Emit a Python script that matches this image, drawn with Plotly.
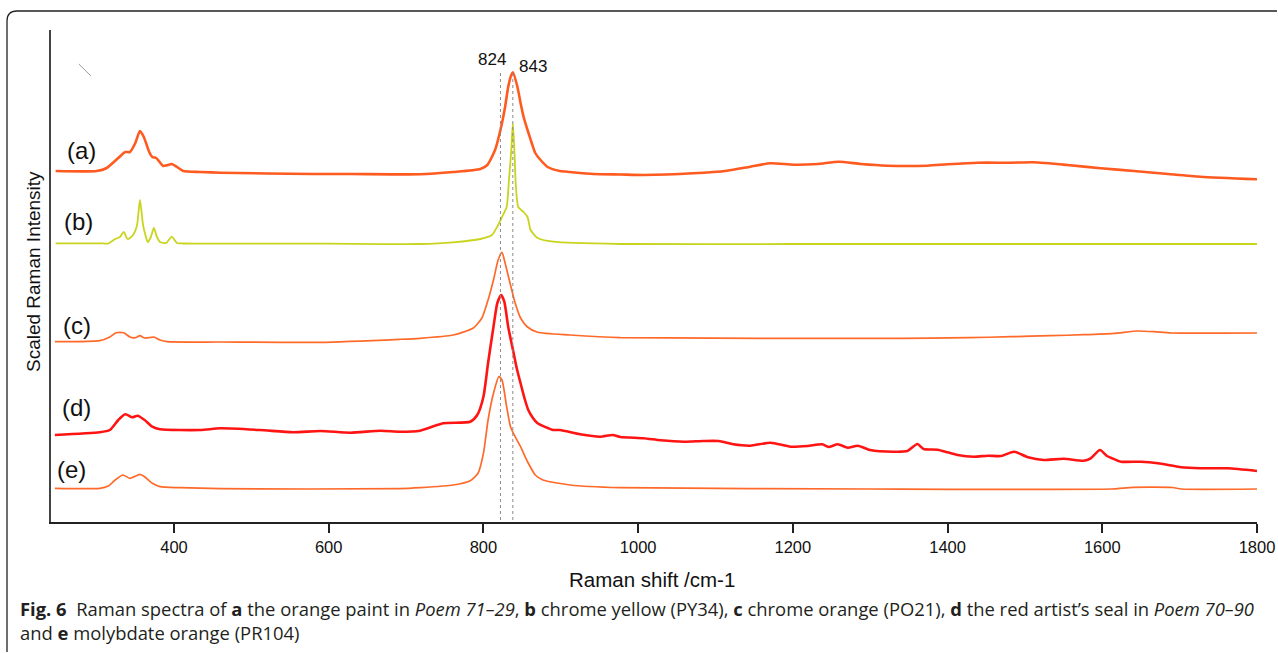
import plotly.graph_objects as go

# ---- data (Raman shift in cm-1, scaled intensity offset per trace) ----
a_shift = [247, 300, 313, 328, 337, 343, 350, 356, 361, 368, 372, 377, 386, 392, 397, 404, 412, 434, 460, 580,
           628, 718, 761, 796, 805, 815, 822, 828, 832, 836, 838, 844, 848, 852, 857, 862, 867, 875, 883, 899, 912,
           942, 977, 1007, 1071, 1115, 1145, 1171, 1201, 1232, 1259, 1288, 1322, 1374, 1400, 1439, 1482, 1511, 1555,
           1598, 1641, 1685, 1727, 1800]
a_int = [351, 351, 354, 364, 370, 370, 379, 391, 385, 370, 365, 364, 356, 357, 358, 355, 351, 350, 349.3, 348,
         348, 347.7, 350, 353, 357, 372, 392, 415, 435, 447, 449.7, 435, 419, 405, 392, 380, 369, 361, 355, 351, 350,
         348, 347.5, 347, 348.7, 351.3, 355.3, 358.7, 357.3, 358, 360.3, 358, 356.3, 356.3, 357.7, 359.3, 359.3,
         359.7, 357, 353.7, 351, 348, 345.3, 342.7]

b_shift = [247, 304, 315, 324, 330, 335, 340, 346, 352, 356, 360, 363, 366, 370, 374, 378, 382, 390, 397, 404,
           412, 460, 600, 718, 761, 796, 811, 819, 824, 830, 833, 836, 838, 840, 842, 845, 852, 857, 861, 870,
           890, 977, 1200, 1800]
b_int = [278.7, 278.7, 278.5, 283, 285, 290, 283, 286, 296, 322, 297, 287, 280, 285, 294, 285, 280, 279, 285.3, 279,
         278.5, 278.3, 278.3, 278, 279.7, 283, 287, 297, 305, 315, 342, 372, 398.7, 372, 335, 315, 310, 305, 292, 284,
         280.3, 278, 278, 278]

c_shift = [246, 304, 317, 325, 335, 343, 350, 356, 362, 369, 374, 382, 391, 460, 589, 692, 718, 761, 787, 798,
           806, 813, 819, 824, 828, 835, 841, 848, 857, 870, 912, 977, 1339, 1426, 1482, 1533, 1576, 1615, 1646,
           1667, 1689, 1800]
c_int = [180.3, 181.3, 185, 189.3, 189.3, 185, 184.3, 186.3, 184, 184.5, 185, 182, 180.3, 180, 179.7, 182.7, 183.7,
         187, 194, 204, 222, 242, 262, 269.7, 259, 237, 219, 204, 195, 189.7, 187, 184.3, 183.7, 184.3, 185.3, 186.3,
         187.3, 188.7, 191, 190.3, 189, 189]

d_shift = [246, 304, 317, 328, 337, 346, 353, 362, 372, 382, 434, 460, 511, 554, 589, 628, 667, 692, 718, 748,
           783, 792, 800, 806, 813, 818, 823, 827, 832, 839, 843, 848, 853, 858, 864, 870, 880, 890, 899, 925, 951,
           967, 977, 1007, 1029, 1059, 1084, 1104, 1123, 1145, 1171, 1197, 1219, 1238, 1246, 1258, 1271, 1284,
           1300, 1330, 1348, 1361, 1369, 1387, 1400, 1413, 1434, 1452, 1469, 1486, 1504, 1524, 1550, 1576, 1585,
           1597, 1606, 1611, 1624, 1650, 1672, 1702, 1727, 1762, 1800]
d_int = [87, 89.7, 92, 102, 107.7, 104.7, 106.3, 102, 95.3, 92.7, 92, 93.7, 92, 89.7, 91, 89.3, 91.3, 90.3, 91.3,
         98.7, 100.3, 107, 125.3, 159, 195.3, 219, 227, 220.3, 195.3, 169, 154, 138.7, 124, 112, 104, 98.7, 95, 92, 92,
         87.7, 85.3, 87, 85, 83.7, 81.7, 80.3, 81, 81, 77.7, 76.3, 79.3, 75.3, 76, 77.7, 75, 77.7, 74.3, 76.3, 72,
         70.3, 71, 78, 73, 72.3, 69.7, 67, 65.3, 66.3, 66, 70.3, 64.7, 62, 63.3, 61.3, 63.7, 72, 66, 64.3, 60.3,
         60.3, 58.7, 54.7, 53.7, 53.7, 51]

e_shift = [246, 304, 315, 324, 334, 343, 356, 362, 372, 382, 408, 460, 692, 718, 761, 783, 793, 800, 806, 813,
           820, 824, 830, 835, 841, 848, 857, 867, 877, 912, 977, 1300, 1611, 1640, 1691, 1702, 1800]
e_int = [33.7, 33.7, 36, 42, 47, 43.7, 47.7, 45.3, 38.7, 35.3, 34.3, 33.3, 33.3, 34.3, 37, 41.3, 48.7, 68.7, 102,
         128.7, 145.3, 142, 115.3, 95.3, 85.3, 75.3, 60.3, 47, 42, 37, 34.3, 33, 33, 34.7, 34.5, 33, 33]

series_labels = ["(a)", "(b)", "(c)", "(d)", "(e)"]
label_x = [281, 277, 274.5, 274.5, 268]
label_y = [372, 301, 197, 115, 53]

marker_lines = [822, 838]
marker_text = ["824", "843"]
marker_text_x = [811, 864]
marker_text_y = [463, 456]
x_ticks = [400, 600, 800, 1000, 1200, 1400, 1600, 1800]

series = [
    (a_shift, a_int, "#FF5A1F", 2.6),
    (b_shift, b_int, "#C9D41F", 1.8),
    (c_shift, c_int, "#FF6A2A", 1.7),
    (d_shift, d_int, "#FF1414", 2.6),
    (e_shift, e_int, "#FF6A2A", 1.7),
]

fig = go.Figure()
for (xs, ys, col, w), name in zip(series, series_labels):
    fig.add_trace(go.Scatter(x=xs, y=ys, mode="lines", name=name,
                             line=dict(color=col, width=w, shape="spline", smoothing=0.6),
                             showlegend=False, hoverinfo="skip"))

# dotted reference lines
for xv in marker_lines:
    fig.add_shape(type="line", x0=xv, x1=xv, y0=2, y1=449, xref="x", yref="y",
                  line=dict(color="#8a8a8a", width=1, dash="dot"))

annotations = []
for t, xv, yv in zip(marker_text, marker_text_x, marker_text_y):
    annotations.append(dict(x=xv, y=yv, xref="x", yref="y", text=t, showarrow=False,
                            font=dict(family="Liberation Sans, Arial", size=17, color="#111")))
for t, xv, yv in zip(series_labels, label_x, label_y):
    annotations.append(dict(x=xv, y=yv, xref="x", yref="y", text=t, showarrow=False,
                            font=dict(family="Liberation Sans, Arial", size=24, color="#111")))

# axis titles
annotations.append(dict(x=0.4983, y=-0.1159, xref="paper", yref="paper", text="Raman shift /cm-1",
                        showarrow=False, xanchor="center", yanchor="middle",
                        font=dict(family="Liberation Sans, Arial", size=20.5, color="#111")))
annotations.append(dict(x=-0.0149, y=0.5081, xref="paper", yref="paper", text="Scaled Raman Intensity",
                        showarrow=False, xanchor="center", yanchor="middle", textangle=-90,
                        font=dict(family="Liberation Sans, Arial", size=19, color="#111")))
# caption (two lines in one text block)
cap_font = dict(family="Open Sans, Noto Sans", size=18.4, color="#231f20")
annotations.append(dict(x=-0.0274, y=-0.1995, xref="paper", yref="paper", xanchor="left", yanchor="middle",
                        align="left", showarrow=False, font=cap_font,
                        text="<b>Fig. 6</b>  Raman spectra of <b>a</b> the orange paint in <i>Poem 71–29</i>, "
                             "<b>b</b> chrome yellow (PY34), <b>c</b> chrome orange (PO21), "
                             "<b>d</b> the red artist’s seal in <i>Poem 70–90</i><br>"
                             "and <b>e</b> molybdate orange (PR104)"))

# stray stroke near top-left and rounded frame (kept inside the page)
fig.add_shape(type="line", x0=277, y0=458, x1=292.6, y1=446, xref="x", yref="y",
              line=dict(color="#9a9a9a", width=1))
fig.add_shape(type="path", xref="paper", yref="paper",
              path="M -0.03648 -0.2642 L -0.03648 1.01829 Q -0.03648 1.03862 -0.02819 1.03862 L 1.0166 1.03862",
              line=dict(color="#222", width=1.3))

fig.update_layout(
    width=1278, height=653,
    margin=dict(l=51, r=21, t=30, b=131, autoexpand=False),
    paper_bgcolor="white", plot_bgcolor="white",
    annotations=annotations,
    xaxis=dict(range=[241, 1800], tickvals=x_ticks, ticks="outside", ticklen=9, tickwidth=2,
               tickcolor="#222", showline=True, linecolor="#222", linewidth=2, showgrid=False,
               zeroline=False, automargin=False,
               tickfont=dict(family="Liberation Sans, Arial", size=16.5, color="#111")),
    yaxis=dict(range=[0, 492], showticklabels=False, ticks="", showline=True, linecolor="#444",
               linewidth=2, showgrid=False, zeroline=False, automargin=False),
)

fig.write_html("out.html")
